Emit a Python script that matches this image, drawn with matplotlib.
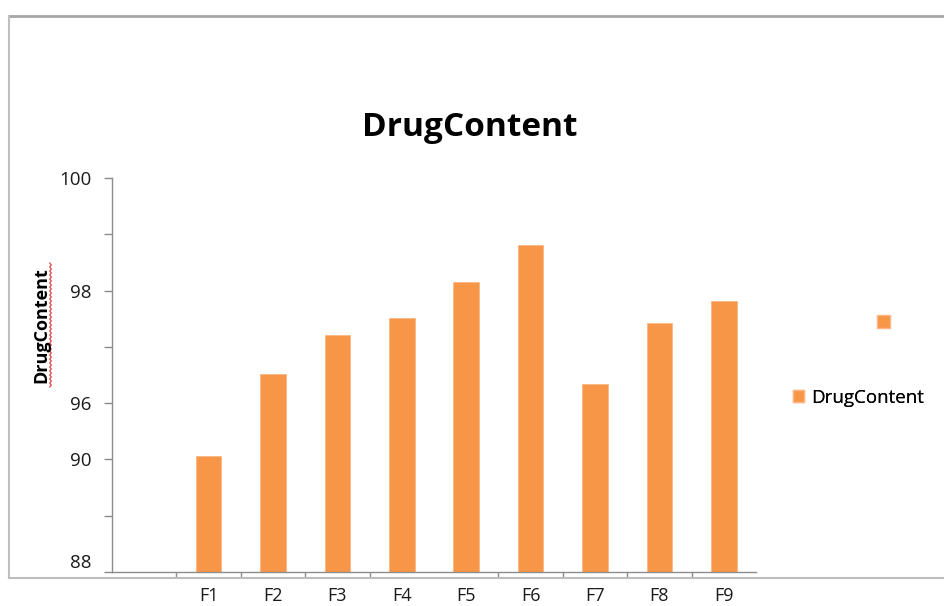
import numpy as np
import matplotlib
matplotlib.use("Agg")
import matplotlib.pyplot as plt
from matplotlib.scale import FuncScale
from matplotlib.lines import Line2D
from matplotlib.patches import Patch

# Formulation data
categories = ["F1", "F2", "F3", "F4", "F5", "F6", "F7", "F8", "F9"]
drug_content = [90.4, 96.52, 97.21, 97.52, 98.15, 98.81, 96.34, 97.42, 97.82]

# Axis labels are unevenly spaced values on evenly spaced ticks
label_values = [88, 90, 96, 98, 100]
label_slots = [0, 2, 3, 5, 7]
minor_values = [89, 97, 99]
y_floor = 88

W, H = 944, 606
plt.rcParams["font.family"] = ["Open Sans", "DejaVu Sans"]
fig = plt.figure(figsize=(W / 100, H / 100), dpi=100)
fig.patch.set_facecolor("white")

def fx(px):
    return px / W

def fy(py):
    return 1 - py / H

ax = fig.add_axes([fx(112), fy(572), fx(756) - fx(112), fy(178) - fy(572)])

def forward(v):
    return np.interp(v, label_values, label_slots)

def inverse(s):
    return np.interp(s, label_slots, label_values)

ax.set_yscale(FuncScale(ax, (forward, inverse)))
ax.set_ylim(y_floor, 100)

x = np.arange(1, len(categories) + 1)
bar_color = "#F79646"
heights = [v - y_floor for v in drug_content]
ax.bar(x, heights, width=0.4, bottom=y_floor, color=bar_color,
       edgecolor="#FAB684", linewidth=0.6, zorder=2)
ax.set_xlim(-0.5, len(categories) + 0.5)

axis_gray = "#8C8C8C"
for side in ("top", "right"):
    ax.spines[side].set_visible(False)
for side in ("left", "bottom"):
    ax.spines[side].set_color(axis_gray)
    ax.spines[side].set_linewidth(1.0)

tick_size = 13.5

# y ticks
ax.set_yticks(label_values)
ax.set_yticklabels([str(v) for v in label_values])
ax.set_yticks(minor_values, minor=True)
ax.tick_params(axis="y", which="both", direction="out", length=5.5,
               width=1.0, color=axis_gray, pad=9.5, labelsize=tick_size,
               labelcolor="#1a1a1a")
# the lowest label sits just above its tick
ax.get_yticklabels()[0].set_verticalalignment("bottom")

# x ticks: labels at bar centres, marks at category boundaries
ax.set_xticks(x)
ax.set_xticklabels(categories)
boundaries = [b for b in np.arange(0.5, len(categories) + 0.5, 1.0) if b != 4.5]
ax.set_xticks(boundaries, minor=True)
ax.tick_params(axis="x", which="major", length=0, pad=11, labelsize=13,
               labelcolor="#1a1a1a")
ax.tick_params(axis="x", which="minor", direction="out", length=4.5,
               width=1.0, color=axis_gray)

fig.text(fx(470), fy(127), "DrugContent", ha="center", va="center",
         fontsize=24, fontweight="bold", color="#000000")
fig.text(fx(41), fy(325), "DrugContent", ha="center", va="center",
         rotation=90, fontsize=13, fontweight="bold", color="#000000")

# spelling squiggle beside the axis title
sy = np.arange(263, 388, 2.0)
sx = 50.5 + np.where(np.arange(len(sy)) % 2 == 0, -0.8, 0.8)
fig.add_artist(Line2D(fx(sx), fy(sy), color="#E03030", lw=0.8,
                      transform=fig.transFigure))

# chart frame
frame_gray = "#A6A6A6"
fig.add_artist(Line2D([fx(9), 1], [fy(16), fy(16)], color=frame_gray, lw=2,
                      transform=fig.transFigure))
fig.add_artist(Line2D([fx(9), fx(9)], [fy(16), fy(578)], color="#C0C0C0",
                      lw=1.5, transform=fig.transFigure))
fig.add_artist(Line2D([fx(9), 1], [fy(578), fy(578)], color="#BDBDBD",
                      lw=1.5, transform=fig.transFigure))

# legend
leg = fig.legend(handles=[Patch(facecolor=bar_color, edgecolor="#FAB684")],
                 labels=["DrugContent"], loc="center left",
                 bbox_to_anchor=(fx(793), fy(398)), frameon=False,
                 handlelength=0.6, handleheight=0.6, handletextpad=0.35,
                 fontsize=tick_size, borderpad=0, borderaxespad=0)
fig.add_artist(leg)
fig.legend(handles=[Patch(facecolor=bar_color, edgecolor="#FAB684")],
           labels=[""], loc="center left",
           bbox_to_anchor=(fx(877), fy(323)), frameon=False,
           handlelength=0.7, handleheight=0.7, handletextpad=0,
           fontsize=tick_size, borderpad=0, borderaxespad=0)

fig.savefig("out.png", dpi=100, facecolor="white")
